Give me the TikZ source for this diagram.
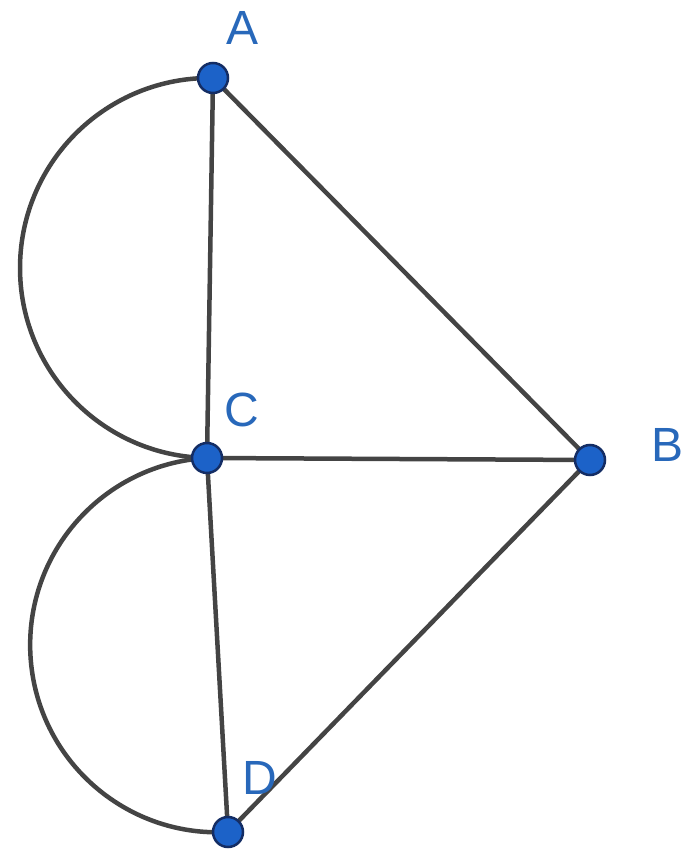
\documentclass[tikz,border=0pt]{standalone}
\usepackage{fontspec}
\setmainfont{Liberation Sans}
\definecolor{edgegray}{RGB}{68,68,68}
\definecolor{nodeblue}{RGB}{28,98,200}
\definecolor{nodeline}{RGB}{20,45,100}
\definecolor{labelblue}{RGB}{40,104,186}
\begin{document}
\begin{tikzpicture}[x=1pt,y=1pt,
  vert/.style={circle,fill=nodeblue,draw=nodeline,line width=2.5pt,minimum size=30pt,inner sep=0pt},
  edge/.style={draw=edgegray,line width=4.5pt,line cap=round},
  lbl/.style={text=labelblue,font=\fontsize{48}{48}\selectfont,inner sep=0pt}]
\useasboundingbox (0,0) rectangle (685,851);
\coordinate (A) at (213,773);
\coordinate (C) at (207,393);
\coordinate (B) at (590,391);
\coordinate (D) at (228,19);
\draw[edge] (A) arc[start angle=89.1, delta angle=180, radius=190];
\draw[edge] (C) arc[start angle=93.2, delta angle=180, radius=187.3];
\draw[edge] (A) -- (C);
\draw[edge] (A) -- (B);
\draw[edge] (C) -- (B);
\draw[edge] (C) -- (D);
\draw[edge] (D) -- (B);
\node[vert] (nA) at (A) {};
\node[vert] (nC) at (C) {};
\node[vert] (nB) at (B) {};
\node[vert] (nD) at (D) {};
\node[lbl] (lA) at (243,823) {A};
\node[lbl] (lC) at (242,441) {C};
\node[lbl] (lB) at (667,406) {B};
\node[lbl] (lD) at (260,73) {D};
\end{tikzpicture}
\end{document}
